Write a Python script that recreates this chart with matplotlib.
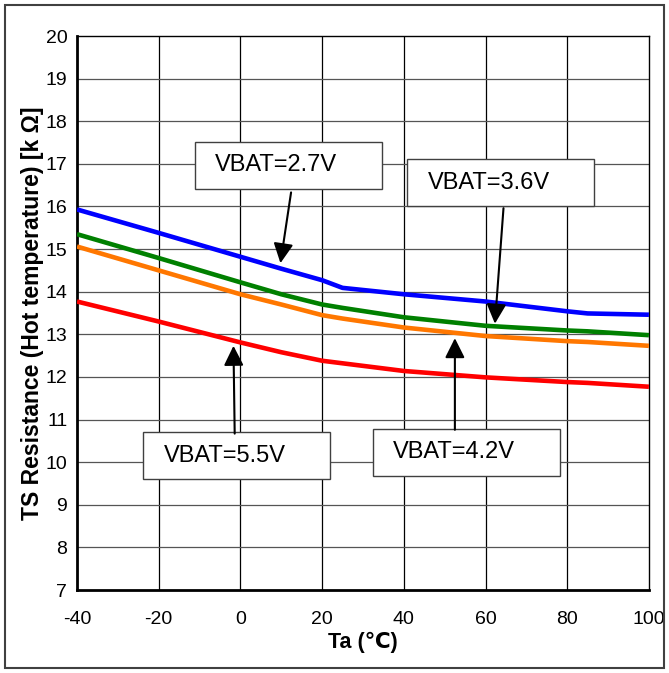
import matplotlib
matplotlib.use('Agg')
import matplotlib.pyplot as plt
from matplotlib.patches import Rectangle

plt.rcParams['font.family'] = ['Liberation Sans', 'DejaVu Sans']
plt.rcParams['axes.unicode_minus'] = False

# data
ta = [-40, -20, 0, 10, 20, 25, 40, 60, 80, 85, 100]
r_27 = [15.93, 15.38, 14.82, 14.54, 14.27, 14.09, 13.94, 13.77, 13.54, 13.49, 13.46]
r_36 = [15.35, 14.79, 14.22, 13.94, 13.70, 13.62, 13.40, 13.20, 13.09, 13.07, 12.98]
r_42 = [15.06, 14.50, 13.94, 13.70, 13.45, 13.37, 13.16, 12.96, 12.84, 12.82, 12.73]
r_55 = [13.77, 13.30, 12.81, 12.58, 12.38, 12.32, 12.14, 11.99, 11.88, 11.86, 11.77]
labels = ['VBAT=2.7V', 'VBAT=3.6V', 'VBAT=4.2V', 'VBAT=5.5V']
colors = ['#0000FF', '#008000', '#FF7700', '#FF0000']
xticks = [-40, -20, 0, 20, 40, 60, 80, 100]
yticks = list(range(7, 21))

fig = plt.figure(figsize=(6.69, 6.73), dpi=100)
ax = fig.add_axes([0.1151, 0.1233, 0.8549, 0.8232])

for ys, c in zip([r_27, r_36, r_42, r_55], colors):
    ax.plot(ta, ys, color=c, lw=3.3, zorder=3, solid_capstyle='butt')

ax.set_xlim(-40, 100)
ax.set_ylim(7, 20)
ax.set_xticks(xticks)
ax.set_yticks(yticks)
ax.tick_params(length=0, labelsize=14)
ax.tick_params(axis='x', pad=15)
ax.tick_params(axis='y', pad=7)
for x in xticks[1:-1]:
    ax.axvline(x, color='black', lw=0.9, zorder=1)
for y in yticks[1:-1]:
    ax.axhline(y, color='#555555', lw=0.9, zorder=1)
for s in ['left', 'bottom']:
    ax.spines[s].set_linewidth(2.0)
for s in ['top', 'right']:
    ax.spines[s].set_linewidth(1.0)

ax.set_xlabel('Ta (\u2103)', fontsize=15.5, fontweight='bold', labelpad=3)
ax.set_ylabel('TS Resistance (Hot temperature) [k \u03a9]', fontsize=16.5,
              fontweight='bold', labelpad=1)

# annotation boxes: (box x0, x1, y0, y1), text pos, arrow start, arrow tip
boxes = {
    'VBAT=2.7V': ((-11.1, 34.65, 16.41, 17.51), (-6.2, 16.97), (12.4, 16.33), (9.8, 14.67)),
    'VBAT=3.6V': ((40.77, 86.5, 16.01, 17.11), (45.9, 16.54), (64.4, 15.96), (62.3, 13.25)),
    'VBAT=4.2V': ((32.45, 78.2, 9.68, 10.78), (37.4, 10.23), (52.5, 10.76), (52.5, 12.91)),
    'VBAT=5.5V': ((-23.85, 21.9, 9.61, 10.71), (-18.85, 10.15), (-1.4, 10.67), (-1.7, 12.73)),
}
for lab in labels:
    (x0, x1, y0, y1), tpos, a0, a1 = boxes[lab]
    ax.add_patch(Rectangle((x0, y0), x1 - x0, y1 - y0, facecolor='white',
                           edgecolor='#404040', lw=1.0, zorder=5))
    ax.text(tpos[0], tpos[1], lab, fontsize=17, ha='left', va='center', zorder=6)
    ax.annotate('', xy=a1, xytext=a0,
                arrowprops=dict(arrowstyle='-|>', color='black', lw=1.5,
                                mutation_scale=30, shrinkA=0, shrinkB=0),
                zorder=6)

fig.patches.append(Rectangle((0.008, 0.008), 0.984, 0.984, transform=fig.transFigure,
                             fill=False, edgecolor='#404040', lw=1.5))

fig.savefig('out.png', dpi=100)
